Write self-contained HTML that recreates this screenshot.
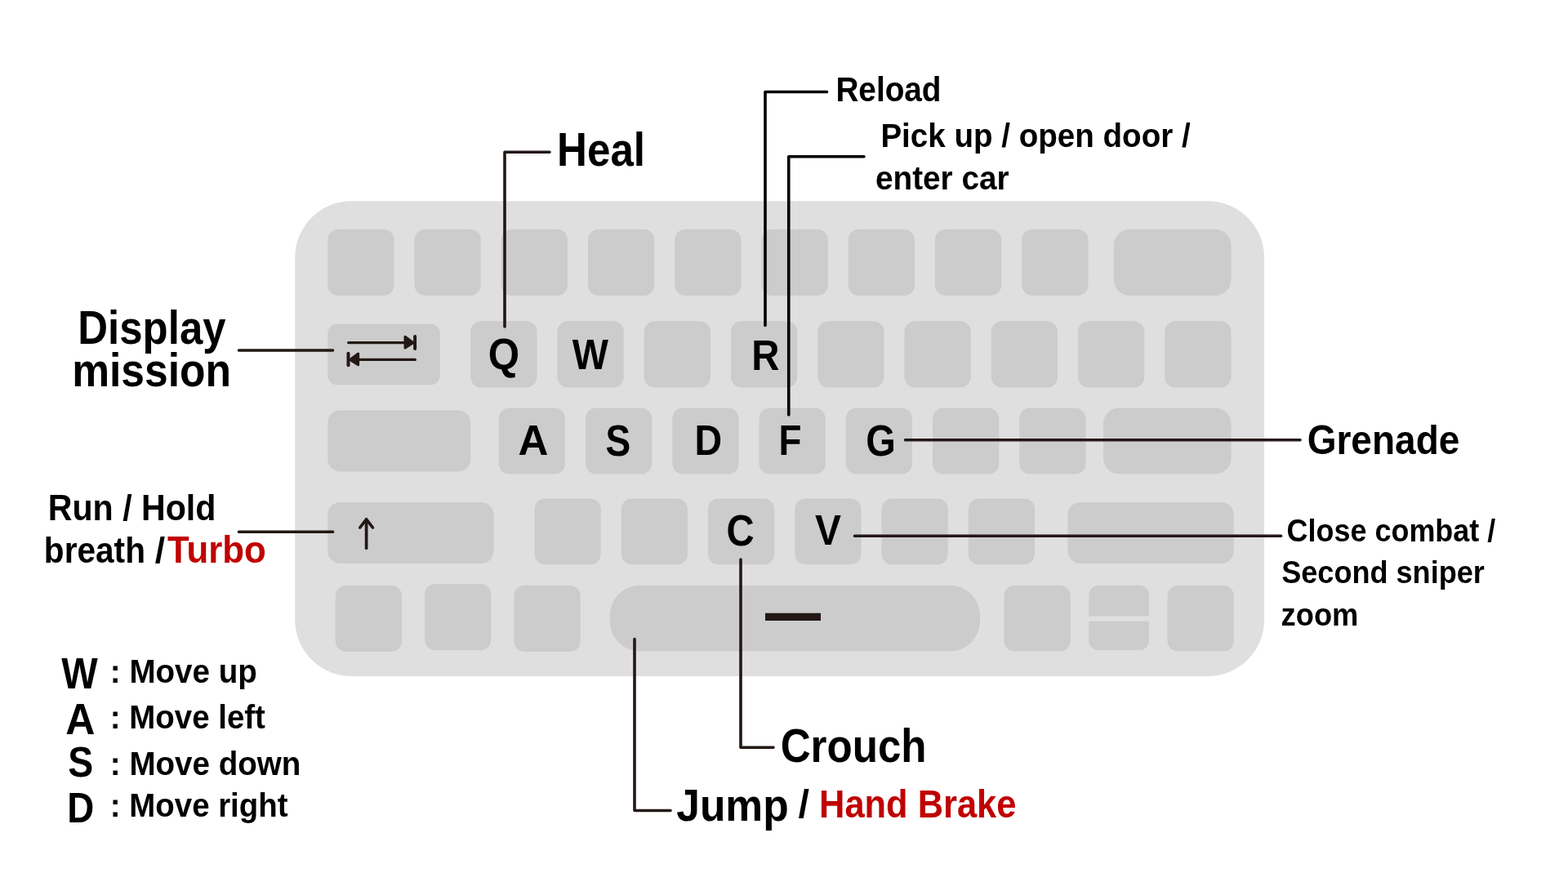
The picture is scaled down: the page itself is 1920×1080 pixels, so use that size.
<!DOCTYPE html>
<html lang="en">
<head>
<meta charset="utf-8">
<title>Keyboard controls</title>
<style>
html,body{margin:0;padding:0;background:#fff;}
body{width:1920px;height:1080px;overflow:hidden;}
svg{display:block;}
text{white-space:pre;}
</style>
</head>
<body>
<svg width="1920" height="1080" viewBox="0 0 1920 1080">
<rect width="1920" height="1080" fill="#fff"/>
<rect id="keyboard-body" x="361.25" y="246.25" width="1186.75" height="581.75" rx="69" ry="69" fill="#dfdfdf"/>
<g id="keys" fill="#cccccc">
<rect x="401.25" y="280.75" width="81.25" height="81.25" rx="13"/>
<rect x="507.5" y="280.75" width="81.25" height="81.25" rx="13"/>
<rect x="613.75" y="280.75" width="81.25" height="81.25" rx="13"/>
<rect x="720" y="280.75" width="81.25" height="81.25" rx="13"/>
<rect x="826.25" y="280.75" width="81.25" height="81.25" rx="13"/>
<rect x="932.5" y="280.75" width="81.25" height="81.25" rx="13"/>
<rect x="1038.75" y="280.75" width="81.25" height="81.25" rx="13"/>
<rect x="1145" y="280.75" width="81.25" height="81.25" rx="13"/>
<rect x="1251.25" y="280.75" width="81.25" height="81.25" rx="13"/>
<rect x="1363.75" y="280.75" width="143.75" height="81.25" rx="19.5"/>
<rect x="401.25" y="396.75" width="137.5" height="74.5" rx="11.5"/>
<rect x="576.25" y="393.25" width="81.25" height="81.25" rx="13"/>
<rect x="682.5" y="393.25" width="81.25" height="81.25" rx="13"/>
<rect x="788.75" y="393.25" width="81.25" height="81.25" rx="13"/>
<rect x="895" y="393.25" width="81.25" height="81.25" rx="13"/>
<rect x="1001.25" y="393.25" width="81.25" height="81.25" rx="13"/>
<rect x="1107.5" y="393.25" width="81.25" height="81.25" rx="13"/>
<rect x="1213.75" y="393.25" width="81.25" height="81.25" rx="13"/>
<rect x="1320" y="393.25" width="81.25" height="81.25" rx="13"/>
<rect x="1426.25" y="393.25" width="81.25" height="81.25" rx="13"/>
<rect x="401.25" y="502.5" width="175" height="75" rx="15"/>
<rect x="610.75" y="499.5" width="81.25" height="81" rx="13"/>
<rect x="717" y="499.5" width="81.25" height="81" rx="13"/>
<rect x="823.25" y="499.5" width="81.25" height="81" rx="13"/>
<rect x="929.5" y="499.5" width="81.25" height="81" rx="13"/>
<rect x="1035.75" y="499.5" width="81.25" height="81" rx="13"/>
<rect x="1142" y="499.5" width="81.25" height="81" rx="13"/>
<rect x="1248.25" y="499.5" width="81.25" height="81" rx="13"/>
<rect x="1351" y="499.5" width="156.5" height="81" rx="19.5"/>
<rect x="401.25" y="615" width="203.25" height="75" rx="15.5"/>
<rect x="654.5" y="610.5" width="81.25" height="80.75" rx="13"/>
<rect x="760.75" y="610.5" width="81.25" height="80.75" rx="13"/>
<rect x="867" y="610.5" width="81.25" height="80.75" rx="13"/>
<rect x="973.25" y="610.5" width="81.25" height="80.75" rx="13"/>
<rect x="1079.5" y="610.5" width="81.25" height="80.75" rx="13"/>
<rect x="1185.75" y="610.5" width="81.25" height="80.75" rx="13"/>
<rect x="1307.5" y="615" width="203.25" height="75" rx="15.5"/>
<rect x="410.75" y="716.75" width="81.25" height="81.25" rx="13"/>
<rect x="520" y="715" width="81.25" height="81.25" rx="13"/>
<rect x="629.5" y="716.75" width="81.25" height="81.25" rx="13"/>
<rect x="746.75" y="716.75" width="453.25" height="80.75" rx="37"/>
<rect x="1229.5" y="716.75" width="81.25" height="80.75" rx="13"/>
<path d="M1333.25 754.5V728.75a12 12 0 0 1 12-12h49.75a12 12 0 0 1 12 12V754.5z"/>
<path d="M1333.25 760.75V784.25a12 12 0 0 0 12 12h49.75a12 12 0 0 0 12-12V760.75z"/>
<rect x="1429.5" y="716.75" width="81.25" height="80.75" rx="13"/>
</g>
<rect x="937" y="750.75" width="68" height="9.25" fill="#231815"/>
<g stroke="#231815" stroke-width="3.2" stroke-linecap="round" fill="none">
<path d="M426.7 419.7H497"/>
<path d="M508.3 440.4H438"/>
</g>
<g stroke="#231815" stroke-width="4" stroke-linecap="round" fill="none">
<path d="M508.1 412V427"/>
<path d="M426.5 432.8V447.2"/>
</g>
<g fill="#231815" stroke="#231815" stroke-width="3" stroke-linejoin="round">
<path d="M506 419.7L496 412.3V426z"/>
<path d="M428.6 440.4L438.6 433V446.7z"/>
</g>
<g stroke="#231815" stroke-width="3.7" stroke-linecap="round" stroke-linejoin="round" fill="none">
<path d="M448.6 671.2V636.5"/><path d="M440.8 646L448.6 635.8L456.4 646"/>
</g>
<g stroke="#231815" stroke-width="3.6" stroke-linecap="round" stroke-linejoin="round" fill="none">
<path d="M673 186.25H618V400"/>
<path d="M292.5 429H407.5"/>
<path d="M1108.5 538.75H1592"/>
<path d="M292.5 651.25H407.5"/>
<path d="M1046.5 656.25H1568.5"/>
<path d="M907 685V915.25H947"/>
<path d="M777 782.5V992.5H821"/>
</g>
<g stroke="#000" stroke-width="3.6" stroke-linecap="round" stroke-linejoin="round" fill="none">
<path d="M1012.5 112.5H937V398.5"/>
<path d="M1058 191.75H965.75V508"/>
</g>
<g id="labels" font-family="'Liberation Sans', sans-serif" font-weight="700" style="will-change:opacity">
<text transform="translate(682.05 203.25) scale(0.8894 1)" font-size="57.50" fill="#000">Heal</text>
<text transform="translate(1023.38 123.75) scale(0.9118 1)" font-size="42.50" fill="#000">Reload</text>
<text transform="translate(1078.40 179.75) scale(0.9298 1)" font-size="41.50" fill="#000">Pick up / open door /</text>
<text transform="translate(1071.95 232.00) scale(0.9332 1)" font-size="41.50" fill="#000">enter car</text>
<text transform="translate(95.31 421.25) scale(0.8958 1)" font-size="56.90" fill="#000">Display</text>
<text transform="translate(88.15 473.25) scale(0.9070 1)" font-size="56.90" fill="#000">mission</text>
<text transform="translate(597.78 451.50) scale(0.9298 1)" font-size="53.00" fill="#000">Q</text>
<text transform="translate(700.63 452.25) scale(0.9002 1)" font-size="52.00" fill="#000">W</text>
<text transform="translate(920.30 452.50) scale(0.9121 1)" font-size="52.00" fill="#000">R</text>
<text transform="translate(634.47 557.25) scale(0.9831 1)" font-size="52.00" fill="#000">A</text>
<text transform="translate(741.62 557.75) scale(0.8684 1)" font-size="53.00" fill="#000">S</text>
<text transform="translate(850.61 557.25) scale(0.8948 1)" font-size="52.00" fill="#000">D</text>
<text transform="translate(953.41 557.25) scale(0.8810 1)" font-size="52.00" fill="#000">F</text>
<text transform="translate(1060.37 557.75) scale(0.8875 1)" font-size="53.00" fill="#000">G</text>
<text transform="translate(889.61 668.25) scale(0.8930 1)" font-size="53.00" fill="#000">C</text>
<text transform="translate(997.89 667.25) scale(0.9210 1)" font-size="52.00" fill="#000">V</text>
<text transform="translate(1600.66 555.75) scale(0.9094 1)" font-size="50.60" fill="#000">Grenade</text>
<text transform="translate(1575.56 662.50) scale(0.9082 1)" font-size="39.60" fill="#000">Close combat /</text>
<text transform="translate(1569.17 713.75) scale(0.9118 1)" font-size="39.60" fill="#000">Second sniper</text>
<text transform="translate(1568.55 766.25) scale(0.9180 1)" font-size="39.60" fill="#000">zoom</text>
<text transform="translate(58.72 637.25) scale(0.9292 1)" font-size="44.30" fill="#000">Run / Hold</text>
<text transform="translate(53.86 688.50) scale(0.9086 1)" font-size="44.70" fill="#000">breath</text>
<text transform="translate(189.80 688.50) scale(0.9991 1)" font-size="44.70" fill="#000">/</text>
<text transform="translate(204.95 689.25) scale(0.9412 1)" font-size="46.50" fill="#c00000">Turbo</text>
<text transform="translate(75.13 842.60) scale(0.8717 1)" font-size="54.00" fill="#000">W</text>
<text transform="translate(80.25 898.70) scale(0.9259 1)" font-size="54.00" fill="#000">A</text>
<text transform="translate(83.36 950.75) scale(0.9018 1)" font-size="51.50" fill="#000">S</text>
<text transform="translate(82.16 1006.50) scale(0.8707 1)" font-size="52.50" fill="#000">D</text>
<text transform="translate(134.84 836.00) scale(0.9363 1)" font-size="41.20" fill="#000">: Move up</text>
<text transform="translate(134.85 892.25) scale(0.9332 1)" font-size="41.20" fill="#000">: Move left</text>
<text transform="translate(134.84 948.50) scale(0.9359 1)" font-size="41.20" fill="#000">: Move down</text>
<text transform="translate(134.85 999.50) scale(0.9324 1)" font-size="41.20" fill="#000">: Move right</text>
<text transform="translate(955.71 932.75) scale(0.8965 1)" font-size="57.00" fill="#000">Crouch</text>
<text transform="translate(828.23 1005.25) scale(0.9202 1)" font-size="56.00" fill="#000">Jump</text>
<text transform="translate(977.51 1000.50) scale(1.0113 1)" font-size="48.00" fill="#000">/</text>
<text transform="translate(1003.07 1000.50) scale(0.9085 1)" font-size="47.80" fill="#c00000">Hand Brake</text>
</g>
</svg>
</body>
</html>
